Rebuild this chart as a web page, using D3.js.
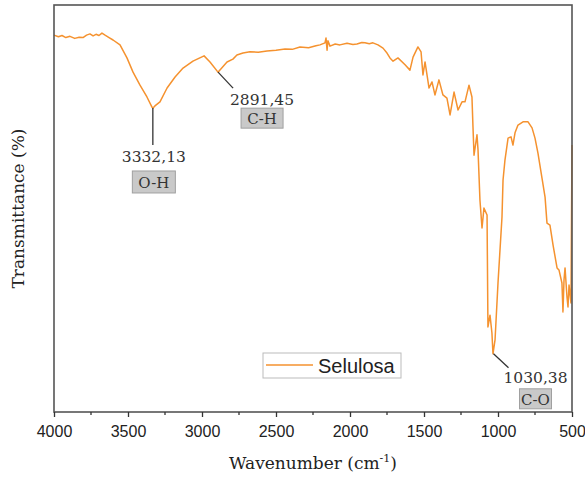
<!DOCTYPE html>
<html>
<head>
<meta charset="utf-8">
<script src="https://cdn.jsdelivr.net/npm/d3@7"></script>
<style>
  body { margin: 0; background: #fff; }
  svg { display: block; }
</style>
</head>
<body>
<svg id="chart" width="585" height="481"></svg>
<script>
// FTIR spectrum of cellulose
const wavenumbers = [
  4000, 3970, 3946, 3920, 3892, 3860, 3830, 3804, 3780, 3757, 3736, 3716, 3696, 3676, 3655,
  3628, 3601, 3554, 3507, 3466, 3419, 3372, 3338, 3331, 3318, 3284, 3236, 3182, 3128, 3061,
  2986, 2946, 2892, 2831, 2791, 2764, 2723, 2676, 2620, 2561, 2500, 2439, 2390, 2338, 2280,
  2230, 2203, 2169, 2162, 2155, 2149, 2135, 2100, 2068, 2020, 1980, 1953, 1920, 1899, 1870,
  1845, 1811, 1777, 1750, 1730, 1709, 1676, 1628, 1595, 1574, 1541, 1520, 1507, 1493, 1466,
  1446, 1426, 1399, 1372, 1345, 1324, 1297, 1270, 1243, 1223, 1196, 1176, 1169, 1162, 1142,
  1135, 1122, 1108, 1095, 1074, 1068, 1054, 1041, 1034, 1020, 1000, 973, 966, 953, 932,
  912, 899, 885, 865, 831, 797, 770, 750, 730, 703, 682, 669, 649, 628, 601,
  588, 568, 561, 554, 547, 534, 527, 520, 507, 500
];
const transmittance = [
  92.6, 92.2, 92.5, 92.0, 92.3, 91.8, 92.1, 92.0, 92.6, 92.9, 92.4, 92.8, 92.5, 93.1, 92.6,
  92.0, 91.4, 90.2, 87.0, 83.5, 80.3, 77.4, 74.9, 74.7, 75.2, 76.2, 79.6, 82.3, 84.5, 86.2,
  87.5, 86.0, 83.5, 86.0, 86.7, 87.7, 88.2, 88.5, 88.4, 88.7, 88.9, 89.2, 89.1, 89.7, 89.5,
  90.0, 90.2, 90.7, 91.9, 88.9, 91.2, 89.9, 90.4, 90.2, 90.6, 90.3, 90.4, 90.8, 90.7, 90.5,
  90.7, 90.2, 89.4, 88.2, 87.0, 86.2, 87.0, 85.3, 84.0, 87.2, 89.7, 88.5, 82.8, 86.0, 79.6,
  81.1, 77.9, 81.6, 77.9, 77.1, 73.0, 78.6, 74.2, 76.2, 76.2, 80.3, 77.4, 70.0, 63.1, 68.1,
  64.4, 52.1, 45.2, 50.1, 48.4, 20.9, 23.8, 19.4, 14.3, 17.7, 31.7, 47.9, 57.0, 61.9, 67.3,
  67.6, 65.6, 68.6, 70.5, 71.3, 71.3, 69.8, 67.3, 63.6, 57.5, 52.8, 46.4, 45.9, 41.0, 35.4,
  34.9, 31.7, 24.6, 32.4, 35.4, 28.3, 25.8, 31.2, 26.8, 65.6
];

const xTicks = [4000, 3500, 3000, 2500, 2000, 1500, 1000, 500];
const xMinorTicks = [3750, 3250, 2750, 2250, 1750, 1250, 750];

const peakWavenumbers = [3332.13, 2891.45, 1030.38];
const peakLabels = ["3332,13", "2891,45", "1030,38"];
const peakGroups = ["O-H", "C-H", "C-O"];

const seriesName = "Selulosa";
const xTitle = "Wavenumber (cm";
const yTitle = "Transmittance (%)";

const lineColor = "#f5922f";

const svg = d3.select("#chart");
const margin = { left: 54, right: 13, top: 5, bottom: 69 };
const W = 585, H = 481;

const x = d3.scaleLinear().domain([4000, 500]).range([margin.left, W - margin.right]);
const y = d3.scaleLinear().domain([0, 100]).range([H - margin.bottom, margin.top]);

const data = wavenumbers.map((w, i) => ({ w, t: transmittance[i] }));

// spectrum
svg.append("path")
  .datum(data)
  .attr("fill", "none")
  .attr("stroke", lineColor)
  .attr("stroke-width", 1.5)
  .attr("stroke-linejoin", "round")
  .attr("d", d3.line().x(d => x(d.w)).y(d => y(d.t)));

// frame
svg.append("rect")
  .attr("x", x(4000)).attr("y", y(100))
  .attr("width", x(500) - x(4000)).attr("height", y(0) - y(100))
  .attr("fill", "none")
  .attr("stroke", "#555")
  .attr("stroke-width", 1.6);

// bottom axis
const axisG = svg.append("g").attr("transform", `translate(0,${y(0)})`);
axisG.call(d3.axisBottom(x).tickValues(xTicks).tickSize(5).tickPadding(9).tickFormat(d3.format("d")));
axisG.select(".domain").remove();
axisG.selectAll(".tick line").attr("stroke", "#333").attr("stroke-width", 1.3);
axisG.selectAll(".tick text")
  .attr("font-family", "Liberation Sans, Arial, sans-serif")
  .attr("font-size", 16)
  .attr("fill", "#222");

axisG.selectAll(".minor")
  .data(xMinorTicks)
  .join("line")
  .attr("x1", d => x(d)).attr("x2", d => x(d))
  .attr("y1", 0).attr("y2", 3)
  .attr("stroke", "#333").attr("stroke-width", 1.3);

// axis titles
const xt = svg.append("text")
  .attr("x", (x(4000) + x(500)) / 2)
  .attr("y", 469)
  .attr("text-anchor", "middle")
  .attr("font-family", "DejaVu Serif, serif")
  .attr("font-size", 17)
  .attr("fill", "#222");
xt.append("tspan").text(xTitle);
xt.append("tspan").attr("dy", -7).attr("font-size", 11).text("-1");
xt.append("tspan").attr("dy", 7).text(")");

svg.append("text")
  .attr("transform", `translate(18,${(y(0) + y(100)) / 2}) rotate(-90)`)
  .attr("text-anchor", "middle")
  .attr("dominant-baseline", "central")
  .attr("font-family", "DejaVu Serif, serif")
  .attr("font-size", 17)
  .attr("fill", "#222")
  .text(yTitle);

// peak annotations: leader offset, label centre, box size (pixels relative to the peak)
const annot = [
  { dx: 0, dy: 37, tx: 1, ty: 49, bw: 43, bh: 22, by: 63 },
  { dx: 15, dy: 16, tx: 44, ty: 28, bw: 42, bh: 20, by: 36 },
  { dx: 15, dy: 14, tx: 42, ty: 24, bw: 32, bh: 20, by: 35 }
];

peakWavenumbers.forEach((w, i) => {
  const near = data.reduce((a, b) => Math.abs(b.w - w) < Math.abs(a.w - w) ? b : a);
  const px = x(w), py = y(near.t);
  const a = annot[i];
  svg.append("line")
    .attr("x1", px).attr("y1", py)
    .attr("x2", px + a.dx).attr("y2", py + a.dy)
    .attr("stroke", "#333").attr("stroke-width", 1.3);
  svg.append("text")
    .attr("x", px + a.tx).attr("y", py + a.ty)
    .attr("text-anchor", "middle")
    .attr("dominant-baseline", "central")
    .attr("font-family", "DejaVu Serif, serif")
    .attr("font-size", 15.5)
    .attr("fill", "#333")
    .text(peakLabels[i]);
  svg.append("rect")
    .attr("x", px + a.tx - a.bw / 2).attr("y", py + a.by)
    .attr("width", a.bw).attr("height", a.bh)
    .attr("fill", "#c9c9c9")
    .attr("stroke", "#a0a0a0");
  svg.append("text")
    .attr("x", px + a.tx).attr("y", py + a.by + a.bh / 2 + 1)
    .attr("text-anchor", "middle")
    .attr("dominant-baseline", "central")
    .attr("font-family", "DejaVu Serif, serif")
    .attr("font-size", 15)
    .attr("fill", "#333")
    .text(peakGroups[i]);
});

// legend
const lg = svg.append("g").attr("transform", "translate(263,353)");
lg.append("rect")
  .attr("width", 138).attr("height", 25)
  .attr("fill", "#fff").attr("stroke", "#bbb");
lg.append("line")
  .attr("x1", 3).attr("x2", 50).attr("y1", 12).attr("y2", 12)
  .attr("stroke", lineColor).attr("stroke-width", 1.5);
lg.append("text")
  .attr("x", 55).attr("y", 13)
  .attr("dominant-baseline", "central")
  .attr("font-family", "Liberation Sans, Arial, sans-serif")
  .attr("font-size", 20)
  .attr("fill", "#222")
  .text(seriesName);
</script>
</body>
</html>
